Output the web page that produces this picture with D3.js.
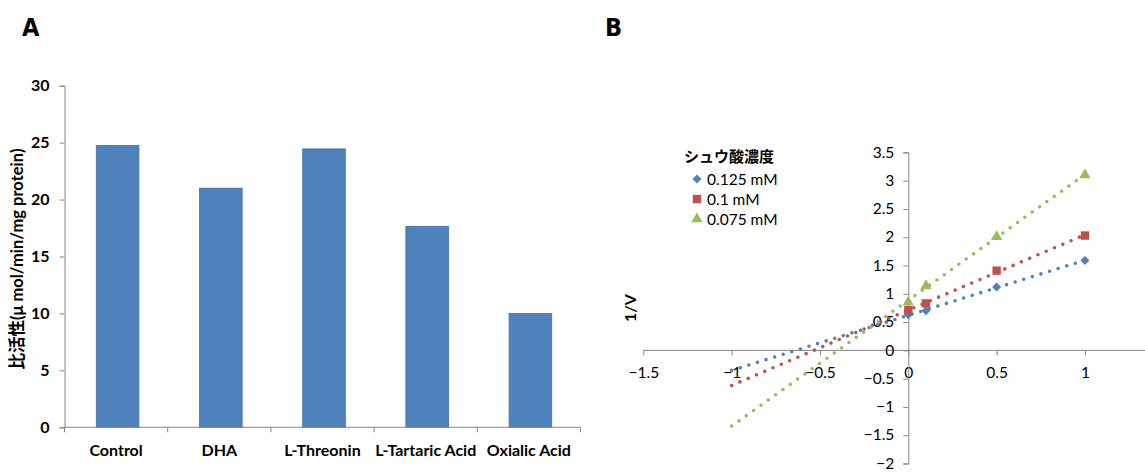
<!DOCTYPE html>
<html>
<head>
<meta charset="utf-8">
<script src="https://cdn.jsdelivr.net/npm/d3@7"></script>
<style>
  body { margin: 0; background: #fff; }
  svg { display: block; }
  text { font-family: Lato, "Noto Sans CJK JP", sans-serif; fill: #000; }
</style>
</head>
<body>
<div id="chart"></div>
<script>
//============== data ===============//

// panel A: specific activity per treatment
const categories = ["Control", "DHA", "L-Threonin", "L-Tartaric Acid", "Oxialic Acid"]
const activity = [24.75, 21.0, 24.45, 17.65, 10.0]
const yTicksA = [0, 5, 10, 15, 20, 25, 30]

// panel B: Lineweaver-Burk, one series per oxalic acid concentration
const invS = [0, 0.1, 0.5, 1]
const series = ["0.125 mM", "0.1 mM", "0.075 mM"]
const invV_0125 = [0.63, 0.70, 1.12, 1.59]
const invV_01 = [0.71, 0.83, 1.41, 2.03]
const invV_0075 = [0.85, 1.14, 2.01, 3.10]
const trendFrom = -1, trendTo = 1   // trendline forecast range
const xTicksB = [-1.5, -1, -0.5, 0, 0.5, 1]
const yTicksB = [-2, -1.5, -1, -0.5, 0, 0.5, 1, 1.5, 2, 2.5, 3, 3.5]

const colors = ["#4F81BD", "#C0504D", "#9BBB59"]
const axisColor = "#868686"

//============== env ===============//

const svg = d3.select("#chart")
  .append("svg")
    .attr("width", 1145)
    .attr("height", 472)

// panel letters
svg.append("text").attr("x", 22).attr("y", 36).text("A")
  .style("font-family", "'DejaVu Sans Condensed', Roboto, sans-serif").style("font-size", "25px").style("font-weight", "600")
svg.append("text").attr("x", 605).attr("y", 36).text("B")
  .style("font-family", "'DejaVu Sans Condensed', Roboto, sans-serif").style("font-size", "25px").style("font-weight", "600")

//============== panel A ===============//

const xA = d3.scaleBand()
  .domain(categories)
  .range([64.5, 580.5])
  .paddingInner(0.587)
  .paddingOuter(0.2935)

const yA = d3.scaleLinear()
  .domain([0, 30])
  .range([427.3, 85.7])

// bars
svg.append("g")
  .attr("transform", "translate(1.5,0)")
  .selectAll("rect")
  .data(categories)
  .join("rect")
    .attr("x", d => xA(d))
    .attr("width", xA.bandwidth())
    .attr("y", (d, i) => yA(activity[i]))
    .attr("height", (d, i) => yA(0) - yA(activity[i]))
    .attr("fill", "#4F81BD")
    .attr("stroke", "#41709F")
    .attr("stroke-width", 0.8)

// y axis
const yAxisA = svg.append("g")
  .attr("transform", "translate(64.5,0)")
  .call(d3.axisLeft(yA).tickValues(yTicksA).tickSize(5).tickPadding(10))
yAxisA.selectAll("text").style("font-size", "16px").style("font-weight", "bold")

// x axis: labels at band centres, tick marks at band edges
const xAxisA = svg.append("g")
  .attr("transform", `translate(0,${yA(0)})`)
  .call(d3.axisBottom(xA).tickSize(0).tickPadding(17))
xAxisA.selectAll("text").style("font-size", "16px").style("font-weight", "bold")
xAxisA.select(".domain").remove()
xAxisA.append("line")
  .attr("x1", 64.5).attr("x2", 580.5)
  .attr("stroke", axisColor)
xAxisA.selectAll("line.edge")
  .data(d3.range(categories.length + 1))
  .join("line")
    .attr("class", "edge")
    .attr("x1", i => 64.5 + i * xA.step())
    .attr("x2", i => 64.5 + i * xA.step())
    .attr("y1", 0).attr("y2", 5)
    .attr("stroke", axisColor)

// y axis title
svg.append("text")
  .attr("transform", `translate(23,259) rotate(-90)`)
  .attr("text-anchor", "middle")
  .style("font-size", "16.5px")
  .style("font-weight", "bold")
  .text("比活性(μ mol/min/mg protein)")

//============== panel B ===============//

const xB = d3.scaleLinear()
  .domain([-1.5, 1.5])
  .range([643.3, 1173.3])

const yB = d3.scaleLinear()
  .domain([-2, 3.5])
  .range([463.5, 152.4])

const xAxisB = svg.append("g")
  .attr("transform", `translate(0,${yB(0)})`)
  .call(d3.axisBottom(xB).tickValues(xTicksB).tickSize(5).tickPadding(12).tickFormat(d3.format("")))
xAxisB.select(".domain").attr("d", `M${xB(-1.5)},0H${xB(1.5)}`)

const yAxisB = svg.append("g")
  .attr("transform", `translate(${xB(0)},0)`)
  .call(d3.axisLeft(yB).tickValues(yTicksB).tickSize(5).tickPadding(9).tickFormat(d3.format("")))

xAxisB.selectAll(".tick text").style("font-size", "15.5px")
yAxisB.selectAll(".tick text").style("font-size", "15.5px").attr("dy", "0.3em")
svg.selectAll(".domain, .tick line").attr("stroke", axisColor)

svg.append("text")
  .attr("transform", "translate(636,308) rotate(-90)")
  .attr("text-anchor", "middle")
  .style("font-size", "16px")
  .style("font-weight", "bold")
  .text("1/V")

const dataB = [invV_0125, invV_01, invV_0075].map((vals, i) => ({
  name: series[i],
  color: colors[i],
  values: invS.map((x, j) => ({x: x, y: vals[j]}))
}))

// linear trendline (least squares, as the spreadsheet does)
function fit(values) {
  const mx = d3.mean(values, d => d.x), my = d3.mean(values, d => d.y)
  const sxy = d3.sum(values, d => (d.x - mx) * (d.y - my))
  const sxx = d3.sum(values, d => (d.x - mx) * (d.x - mx))
  const slope = sxy / sxx
  return x => my + slope * (x - mx)
}

const line = d3.line()
  .x(d => xB(d.x))
  .y(d => yB(d.y))

svg.append("g")
  .selectAll("path")
  .data(dataB)
  .join("path")
    .attr("d", d => {
      const f = fit(d.values)
      return line([{x: trendFrom, y: f(trendFrom)}, {x: trendTo, y: f(trendTo)}])
    })
    .attr("fill", "none")
    .attr("stroke", d => d.color)
    .attr("stroke-width", 3.6)
    .attr("stroke-linecap", "round")
    .attr("stroke-dasharray", "0 9")

// square diamond, like the spreadsheet marker
const squareDiamond = {
  draw(context, size) {
    const r = Math.sqrt(size / 2)
    context.moveTo(0, -r); context.lineTo(r, 0); context.lineTo(0, r); context.lineTo(-r, 0); context.closePath()
  }
}

const symbols = [d3.symbol().type(squareDiamond).size(40),
                 d3.symbol().type(d3.symbolSquare).size(70),
                 d3.symbol().type(d3.symbolTriangle).size(56)]

svg.append("g")
  .selectAll("g")
  .data(dataB)
  .join("g")
    .attr("fill", d => d.color)
  .selectAll("path")
  .data((d, i) => d.values.map(v => ({...v, k: i})))
  .join("path")
    .attr("transform", d => `translate(${xB(d.x)},${yB(d.y)})`)
    .attr("d", d => symbols[d.k]())

// legend
svg.append("text")
  .attr("x", 684).attr("y", 162)
  .style("font-size", "15px")
  .style("font-weight", "bold")
  .text("シュウ酸濃度")

const legend = svg.append("g")
  .selectAll("g")
  .data(dataB)
  .join("g")
    .attr("transform", (d, i) => `translate(697,${179 + i * 20})`)
legend.append("path")
  .attr("d", (d, i) => symbols[i]())
  .attr("fill", d => d.color)
legend.append("text")
  .attr("x", 10).attr("y", 5.5)
  .style("font-size", "15.5px")
  .text(d => d.name)
</script>
</body>
</html>
